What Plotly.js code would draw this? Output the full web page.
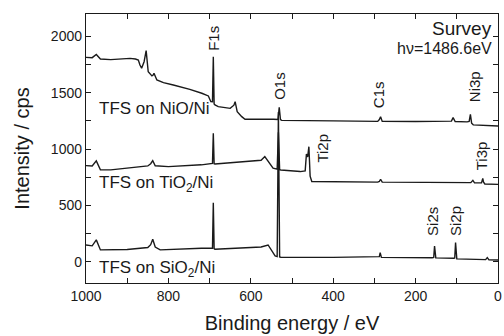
<!DOCTYPE html>
<html>
<head>
<meta charset="utf-8">
<script src="https://cdn.plot.ly/plotly-3.0.1.min.js"></script>
<style>html,body{margin:0;padding:0;background:#fff;}#chart{width:504px;height:336px;}</style>
</head>
<body>
<div id="chart"></div>
<script>
// Binding energy (eV) and intensity (cps)
const niO_be = [1000, 985, 975, 965, 940, 893, 880, 873, 869, 865, 859, 854, 849, 840, 837, 835, 828, 812, 788, 772, 748, 719, 703, 697, 693, 691, 689, 687, 679, 650, 641, 638, 633, 622, 614, 545, 534, 531, 528, 525, 505, 400, 292, 288, 285, 281, 200, 120, 113, 109, 104, 75, 70, 67, 64, 60, 30, 0];
const niO_int = [1815, 1812, 1840, 1800, 1795, 1806, 1800, 1791, 1747, 1718, 1776, 1874, 1687, 1650, 1658, 1673, 1614, 1590, 1569, 1554, 1531, 1496, 1472, 1421, 1420, 1821, 1400, 1392, 1377, 1362, 1390, 1421, 1332, 1288, 1265, 1265, 1262, 1370, 1262, 1255, 1255, 1250, 1246, 1262, 1288, 1246, 1245, 1242, 1248, 1279, 1245, 1242, 1245, 1309, 1230, 1215, 1212, 1205];

const tiO_be = [1000, 985, 975, 965, 940, 880, 860, 850, 843, 838, 832, 800, 720, 695, 693, 691, 689, 687, 600, 575, 566, 556, 546, 536, 533, 530, 527, 480, 468, 465, 462, 459, 456, 452, 400, 292, 288, 285, 281, 120, 66, 61, 57, 40, 37, 35, 32, 0];
const tiO_int = [853, 850, 895, 815, 815, 835, 845, 850, 870, 897, 852, 844, 860, 872, 872, 1140, 870, 868, 890, 900, 933, 880, 830, 822, 1150, 816, 814, 800, 806, 955, 930, 1021, 760, 712, 708, 706, 712, 732, 706, 704, 702, 722, 700, 700, 740, 705, 690, 686];

const siO_be = [1000, 985, 975, 965, 900, 860, 850, 843, 838, 832, 820, 720, 695, 693, 691, 689, 687, 600, 575, 558, 547, 541, 536, 533, 530, 527, 400, 292, 288, 286, 283, 160, 156, 154, 151, 107, 105, 103, 100, 30, 26, 22, 0];
const siO_int = [148, 140, 193, 104, 108, 119, 125, 150, 199, 130, 104, 119, 119, 119, 524, 116, 110, 124, 130, 148, 80, 51, 45, 1330, 42, 39, 38, 38, 44, 80, 38, 35, 38, 139, 33, 30, 32, 169, 24, 18, 36, 16, 15];

const yTickVals = [0, 500, 1000, 1500, 2000];
const xTickVals = [1000, 800, 600, 400, 200, 0];

const peakNames = ["F1s", "O1s", "Ti2p", "C1s", "Ni3p", "Ti3p", "Si2s", "Si2p"];
const peakBE = [691, 532, 427, 291, 58, 38, 159, 103];
const peakY = [1982, 1560, 1005, 1480, 1551, 939, 357, 357];

const seriesLabels = ["TFS on NiO/Ni", "TFS on TiO<sub>2</sub>/Ni", "TFS on SiO<sub>2</sub>/Ni"];
const seriesLabelY = [1360, 690, -69];

const FONT = '"Liberation Sans", Arial, Helvetica, sans-serif';
const lineStyle = {color: '#1a1a1a', width: 1.4};

const traces = [
  {x: niO_be, y: niO_int, type: 'scatter', mode: 'lines', line: lineStyle, hoverinfo: 'skip'},
  {x: tiO_be, y: tiO_int, type: 'scatter', mode: 'lines', line: lineStyle, hoverinfo: 'skip'},
  {x: siO_be, y: siO_int, type: 'scatter', mode: 'lines', line: lineStyle, hoverinfo: 'skip'}
];

const annotations = [];
peakNames.forEach((n, i) => {
  annotations.push({x: peakBE[i], y: peakY[i], xref: 'x', yref: 'y', text: n, textangle: -90,
    showarrow: false, font: {family: FONT, size: 15, color: '#1a1a1a'}});
});
seriesLabels.forEach((t, i) => {
  annotations.push({x: 973, y: seriesLabelY[i], xref: 'x', yref: 'y', text: t, xanchor: 'left',
    showarrow: false, font: {family: FONT, size: 17, color: '#1a1a1a'}});
});
annotations.push({x: 10, y: 2067, xref: 'x', yref: 'y', text: 'Survey', xanchor: 'right', showarrow: false,
  font: {family: FONT, size: 19, color: '#1a1a1a'}});
annotations.push({x: 9, y: 1893, xref: 'x', yref: 'y', text: 'hν=1486.6eV', xanchor: 'right', showarrow: false,
  font: {family: FONT, size: 16, color: '#1a1a1a'}});

const layout = {
  width: 504, height: 336,
  margin: {l: 86, r: 6, t: 14, b: 53},
  paper_bgcolor: '#fff', plot_bgcolor: '#fff',
  showlegend: false,
  font: {family: FONT, size: 14, color: '#1a1a1a'},
  xaxis: {
    range: [1000, 0], showgrid: false, zeroline: false,
    showline: true, linecolor: '#1a1a1a', linewidth: 1.2, mirror: 'ticks',
    ticks: 'inside', ticklen: 5, tickwidth: 1, tickcolor: '#1a1a1a',
    tickvals: xTickVals, ticktext: xTickVals.map(String),
    minor: {dtick: 100, ticks: 'inside', ticklen: 5, tickwidth: 1, tickcolor: '#1a1a1a', showgrid: false},
    tickfont: {family: FONT, size: 14, color: '#1a1a1a'},
    title: {text: 'Binding energy / eV', font: {family: FONT, size: 20, color: '#1a1a1a'}, standoff: 13}
  },
  yaxis: {
    range: [-190, 2200], showgrid: false, zeroline: false,
    showline: true, linecolor: '#1a1a1a', linewidth: 1.2, mirror: 'ticks',
    ticks: 'inside', ticklen: 5, tickwidth: 1, tickcolor: '#1a1a1a',
    tickvals: yTickVals, ticktext: yTickVals.map(String),
    minor: {dtick: 250, ticks: 'inside', ticklen: 5, tickwidth: 1, tickcolor: '#1a1a1a', showgrid: false},
    tickfont: {family: FONT, size: 14, color: '#1a1a1a'},
    title: {text: 'Intensity / cps', font: {family: FONT, size: 20, color: '#1a1a1a'}, standoff: 15}
  },
  annotations: annotations
};

Plotly.newPlot('chart', traces, layout, {staticPlot: true, displayModeBar: false});
</script>
</body>
</html>
